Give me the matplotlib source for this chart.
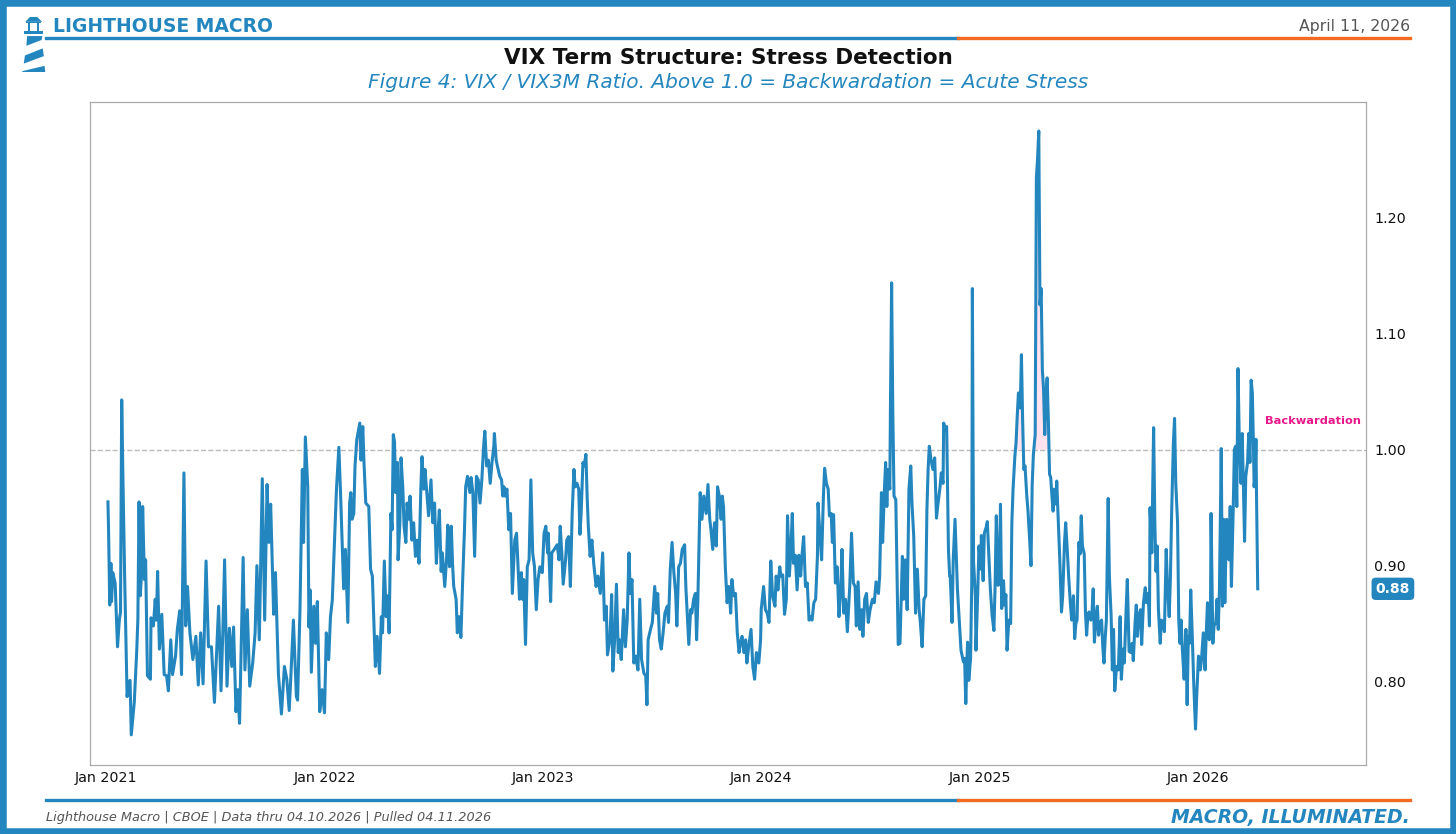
import numpy as np
import pandas as pd
import matplotlib
matplotlib.use("Agg")
import matplotlib.pyplot as plt
import matplotlib.dates as mdates
from matplotlib.patches import Rectangle, Polygon
from matplotlib.lines import Line2D
from matplotlib.transforms import blended_transform_factory

BLUE = '#2386BE'
ORANGE = '#F26B21'
PINK = '#E8178A'
GREY = '#555555'

start_date = '2021-01-01'

# days since start_date (trading days)
days = [
    3, 4, 6, 8, 9, 11, 15, 19, 22, 24,
    26, 28, 31, 35, 38, 40, 42, 47, 51, 53,
    55, 57, 60, 61, 64, 66, 69, 74, 75, 79,
    82, 84, 86, 89, 93, 97, 101, 104, 108, 111,
    116, 119, 123, 126, 130, 133, 136, 140, 145, 150,
    154, 158, 162, 167, 171, 176, 181, 188, 192, 195,
    198, 202, 206, 210, 213, 217, 220, 223, 229, 232,
    236, 240, 245, 249, 252, 256, 261, 265, 269, 272,
    275, 280, 283, 288, 293, 298, 302, 306, 309, 313,
    318, 320, 324, 328, 330, 333, 337, 339, 341, 343,
    347, 350, 353, 357, 361, 365, 368, 372, 375, 378,
    385, 389, 392, 397, 400, 404, 407, 409, 411, 414,
    416, 419, 424, 426, 429, 431, 434, 439,
    442, 445, 450, 453, 457, 460, 462, 465, 468, 470,
    473, 476, 478, 480, 482, 484, 487, 488, 491, 493,
    496, 498, 501, 503, 506, 508, 511, 514, 517, 520,
    523, 526, 528, 531, 533, 536, 539, 543, 546, 549,
    552, 555, 557, 560, 562, 566, 569, 571, 574, 577,
    579, 581, 585, 587, 590, 593, 596, 599, 601, 604,
    608, 610, 613, 616, 619, 622, 625, 628, 631, 633,
    636, 639, 642, 645, 648, 649, 652, 654, 658, 661,
    663, 665, 667, 670, 673, 676, 679, 683, 686, 688,
    691, 694, 696, 698, 701, 704, 707, 710, 713, 716,
    719, 722, 725, 729, 732, 735, 738, 739, 743, 745,
    749, 754, 757, 759, 762, 764, 768,
    770, 773, 776, 779, 782, 784, 787, 790, 792, 794,
    797, 799, 802, 804, 806, 809, 812, 815, 819, 822,
    826, 830, 833, 836, 838, 842, 845, 847, 850, 853,
    856, 858, 861, 865, 868, 871, 874, 876, 879, 882,
    885, 889, 892, 895, 899, 902, 904, 906, 910, 913,
    917, 920, 922, 925, 928, 931, 934, 938, 940, 943,
    946, 949, 952, 954, 957, 960, 963, 967, 969, 974,
    977, 979, 982, 985, 987, 989, 993, 996, 999, 1003,
    1006, 1009, 1011, 1014, 1017, 1020, 1022, 1025, 1028, 1030,
    1032, 1035, 1038, 1041, 1044, 1046, 1049, 1052, 1055, 1058,
    1060, 1063, 1066, 1069, 1071, 1074, 1078, 1081, 1084, 1087,
    1091, 1094,
    1095, 1099, 1102, 1105, 1108, 1111, 1114, 1118, 1120, 1123,
    1126, 1128, 1131, 1134, 1137, 1139, 1142, 1144, 1147, 1149,
    1152, 1155, 1158, 1161, 1163, 1166, 1169, 1172, 1175, 1177,
    1180, 1183, 1186, 1189, 1190, 1193, 1196, 1199, 1201, 1204,
    1207, 1209, 1212, 1214, 1216, 1219, 1222, 1225, 1228, 1230,
    1233, 1236, 1239, 1243, 1246, 1249, 1252, 1254, 1257, 1260,
    1263, 1265, 1268, 1271, 1274, 1277, 1281, 1284, 1287, 1291,
    1293, 1296, 1298, 1301, 1303, 1305, 1307, 1310, 1311, 1313,
    1315, 1317, 1320, 1322, 1324, 1327, 1331, 1333, 1336, 1339,
    1342, 1345, 1347, 1350, 1353, 1356, 1359, 1361, 1364, 1367,
    1370, 1372, 1374, 1376, 1379, 1382, 1385, 1388, 1390, 1394,
    1396, 1399, 1400, 1403, 1405, 1408, 1410, 1411, 1414, 1416,
    1419,
    1423, 1426, 1429, 1433, 1435, 1437, 1439, 1440, 1442, 1445,
    1447, 1448, 1450, 1453, 1454, 1457, 1459, 1462, 1463, 1466,
    1468, 1471, 1473, 1476, 1478, 1481, 1484, 1486, 1488, 1491,
    1493, 1495, 1497, 1500, 1502, 1504, 1506, 1509, 1512, 1514,
    1516, 1519, 1521, 1523, 1525, 1528, 1530, 1532, 1534, 1536,
    1539, 1541, 1544, 1546, 1548, 1550, 1553, 1555, 1557, 1559,
    1561, 1563, 1565, 1567, 1569, 1571, 1573, 1575, 1577, 1579,
    1581, 1583, 1585, 1588, 1589, 1592, 1594, 1597, 1599, 1602,
    1604, 1607, 1609, 1612, 1614, 1617, 1619, 1621, 1623, 1626,
    1628, 1630, 1632, 1635, 1637, 1639, 1641, 1643, 1646, 1648,
    1650, 1652, 1655, 1657, 1659, 1661, 1664, 1666, 1668, 1670,
    1672, 1675,
    1677, 1680, 1682, 1684, 1686, 1689, 1692, 1695, 1697, 1700,
    1702, 1705, 1707, 1710, 1713, 1715, 1717, 1720, 1722, 1724,
    1726, 1729, 1731, 1734, 1737, 1739, 1742, 1744, 1745, 1748,
    1749, 1751, 1753, 1755, 1757, 1759, 1762, 1764, 1767, 1769,
    1772, 1774, 1777, 1779, 1781, 1784, 1786, 1788, 1791, 1793,
    1795, 1797, 1799, 1802, 1805, 1807, 1809, 1811, 1813, 1816,
    1818, 1821, 1823, 1826, 1829, 1831, 1834, 1837, 1839, 1841,
    1844, 1846, 1847, 1850, 1852, 1855, 1857, 1859, 1861, 1864,
    1866, 1868, 1870, 1873, 1875, 1877, 1879, 1881, 1884, 1886,
    1888, 1890, 1892, 1894, 1897, 1899, 1901, 1903, 1905, 1908,
    1910, 1912, 1914, 1916, 1918, 1919, 1921, 1922, 1923, 1925,
]

# VIX / VIX3M ratio
ratio = [
    .955, .931, .866, .902, .869, .894, .885, .830, .853, .860,
    1.043, .977, .888, .787, .800, .801, .754, .782, .825, .853,
    .955, .874, .900, .951, .888, .905, .805, .802, .855, .848,
    .871, .853, .895, .828, .858, .806, .805, .792, .836, .806,
    .822, .845, .861, .806, .980, .848, .882, .842, .819, .839,
    .797, .842, .798, .904, .830, .830, .782, .865, .792, .842,
    .905, .796, .846, .813, .847, .774, .793, .764, .907, .810,
    .862, .796, .816, .842, .900, .836, .975, .853, .970, .920,
    .953, .858, .894, .806, .772, .813, .802, .775, .807, .853,
    .787, .784, .862, .983, .920, 1.011, .968, .847, .879, .808,
    .865, .833, .869, .774, .793, .773, .842, .819, .856, .870,
    .966, 1.002, .960, .880, .914, .851, .954, .963, .940, .945,
    .986, 1.009, 1.023, .991, 1.020, .989, .954, .951,
    .897, .891, .813, .839, .807, .856, .842, .904, .856, .874,
    .842, .945, .931, 1.013, 1.007, .963, .989, .905, .937, .993,
    .966, .934, .920, .954, .940, .960, .922, .937, .908, .922,
    .902, .966, .994, .966, .983, .963, .943, .974, .937, .954,
    .902, .931, .948, .895, .911, .882, .905, .935, .899, .934,
    .902, .882, .871, .842, .856, .838, .888, .931, .968, .977,
    .963, .976, .963, .908, .977, .974, .954, .974, 1.003, 1.016,
    .986, .991, .971, .989, 1.003, 1.014, .991, .986, .977, .974,
    .960, .968, .960, .966, .931, .945, .876, .922, .928, .905,
    .871, .894, .871, .888, .832, .899, .905, .974, .911, .899,
    .862, .888, .899, .894, .928, .934, .911, .928, .869, .911,
    .914, .918, .905, .934, .908, .884, .905,
    .922, .925, .882, .945, .983, .968, .971, .966, .927, .945,
    .989, .986, .996, .960, .934, .908, .922, .902, .882, .891,
    .876, .911, .853, .865, .823, .836, .875, .809, .836, .884,
    .825, .836, .819, .862, .830, .853, .911, .876, .888, .816,
    .822, .810, .871, .819, .807, .805, .780, .836, .845, .851,
    .882, .859, .876, .836, .828, .842, .859, .865, .851, .897,
    .920, .894, .876, .848, .899, .902, .914, .918, .882, .832,
    .862, .859, .871, .876, .836, .868, .963, .940, .960, .945,
    .970, .940, .931, .914, .937, .917, .968, .960, .940, .960,
    .951, .899, .868, .882, .859, .888, .874, .876, .842, .825,
    .833, .839, .825, .836, .816, .830, .845, .813, .802, .825,
    .816, .836,
    .862, .882, .862, .859, .851, .904, .874, .865, .891, .879,
    .899, .891, .892, .858, .871, .943, .891, .908, .945, .902,
    .909, .879, .909, .891, .908, .925, .882, .885, .853, .856,
    .853, .868, .871, .908, .954, .928, .905, .960, .984, .971,
    .966, .943, .945, .920, .944, .885, .899, .856, .879, .914,
    .859, .871, .843, .882, .928, .885, .882, .848, .886, .845,
    .862, .839, .871, .876, .851, .862, .871, .868, .886, .876,
    .891, .963, .920, .966, .989, .951, .983, .966, 1.034, 1.144,
    1.032, .960, .957, .897, .832, .833, .908, .871, .905, .862,
    .966, .986, .954, .925, .859, .897, .862, .851, .830, .871,
    .874, .948, .983, 1.003, .991, .983, .993, .941, .951, .968,
    .980, .971, 1.023, 1.017, 1.020, .914, .891, .891, .851, .905,
    .940,
    .880, .853, .827, .817, .820, .781, .820, .834, .801, .820,
    .887, 1.139, .903, .874, .827, .877, .917, .897, .926, .887,
    .928, .933, .938, .903, .880, .857, .844, .883, .943, .883,
    .887, .953, .863, .887, .866, .875, .827, .853, .850, .937,
    .966, .994, 1.006, 1.029, 1.049, 1.036, 1.082, 1.026, .983, .986,
    .960, .947, .920, .900, .970, .996, 1.013, 1.235, 1.251, 1.275,
    1.125, 1.139, 1.069, 1.052, 1.013, 1.046, 1.062, 1.026, .979, .976,
    .960, .947, .966, .953, .973, .933, .907, .860, .874, .920,
    .937, .910, .890, .866, .853, .874, .837, .850, .853, .920,
    .910, .943, .917, .910, .860, .840, .857, .860, .853, .860,
    .880, .834, .857, .865, .840, .850, .853, .830, .816, .837,
    .853, .958,
    .891, .856, .810, .845, .792, .813, .810, .856, .802, .828,
    .816, .862, .888, .826, .825, .833, .818, .851, .866, .839,
    .856, .862, .832, .868, .881, .868, .876, .848, .950, .911,
    .951, 1.019, .937, .895, .917, .862, .833, .853, .851, .843,
    .914, .885, .856, .888, .943, 1.006, 1.027, .971, .937, .853,
    .833, .853, .828, .802, .845, .780, .839, .833, .879, .833,
    .799, .759, .787, .822, .810, .819, .842, .810, .842, .868,
    .836, .856, .945, .833, .848, .851, .871, .845, .879, 1.001,
    .865, .940, .868, .940, .937, .905, .951, .882, .948, 1.000,
    1.003, .951, 1.070, 1.014, .971, 1.014, .971, .921, .977, .989,
    1.014, .989, 1.060, 1.049, 1.000, .968, .983, 1.009, .960, .880,
]

yticks = [0.80, 0.90, 1.00, 1.10, 1.20]
threshold = 1.0

dates = pd.Timestamp(start_date) + pd.to_timedelta(days, unit='D')
ratio = np.array(ratio)

W, H = 1456, 834


def fx(px):
    return px / W


def fy(py):
    return 1 - py / H


fig = plt.figure(figsize=(W / 100, H / 100), dpi=100)

# frame around the whole figure
fig.patches.append(Rectangle((0, 0), 1, 1, transform=fig.transFigure,
                             fill=False, ec=BLUE, lw=9, zorder=10))

# header
fig.text(fx(53), fy(27), 'LIGHTHOUSE MACRO', color=BLUE, fontsize=13.5,
         fontweight='bold', ha='left', va='center')
fig.text(fx(1410), fy(26), 'April 11, 2026', color=GREY, fontsize=11.3,
         ha='right', va='center')
fig.add_artist(Line2D([fx(46), fx(958)], [fy(38), fy(38)],
                      transform=fig.transFigure, color=BLUE, lw=2.4))
fig.add_artist(Line2D([fx(958), fx(1410)], [fy(38), fy(38)],
                      transform=fig.transFigure, color=ORANGE, lw=2.4))

# little lighthouse logo
logo = fig.add_axes([fx(22), fy(72), fx(24), 56 / H])
logo.set_xlim(18, 84)
logo.set_ylim(189, 16)
logo.axis('off')
shapes = [
    [(27, 34), (40, 19), (60, 19), (73, 34)],
    [(30, 34), (70, 34), (70, 39), (30, 39)],
    [(35, 39), (41, 39), (41, 62), (35, 62)],
    [(59, 39), (65, 39), (65, 62), (59, 62)],
    [(24, 62), (76, 62), (76, 72), (24, 72)],
    [(32, 78), (74, 78), (72, 90), (30, 108)],
    [(26, 138), (75, 116), (78, 140), (23, 163)],
    [(20, 186), (80, 170), (82, 189), (18, 189)],
]
for pts in shapes:
    logo.add_patch(Polygon(pts, closed=True, fc=BLUE, ec='none'))

# titles
fig.text(0.5, fy(58), 'VIX Term Structure: Stress Detection', color='#111111',
         fontsize=15.5, fontweight='bold', ha='center', va='center')
fig.text(0.5, fy(83),
         'Figure 4: VIX / VIX3M Ratio. Above 1.0 = Backwardation = Acute Stress',
         color=BLUE, fontsize=14.5, style='italic', ha='center', va='center')

# main chart
ax = fig.add_axes([fx(90), fy(765), fx(1276), 663 / H])
ax.fill_between(dates, threshold, ratio, where=ratio > threshold,
                interpolate=True, color='#FF8FC0', alpha=0.25, lw=0)
ax.plot(dates, ratio, color=BLUE, lw=2.2, zorder=3)
ax.axhline(threshold, color='#BBBBBB', ls='--', lw=1, zorder=1)

ax.set_xlim(pd.Timestamp('2020-12-05'), pd.Timestamp('2026-10-08'))
ax.set_ylim(0.728, 1.30)
ax.set_yticks(yticks)
ax.yaxis.set_major_formatter(plt.FuncFormatter(lambda v, p: f'{v:.2f}'))
ax.yaxis.tick_right()
ax.xaxis.set_major_locator(mdates.YearLocator())
ax.xaxis.set_major_formatter(mdates.DateFormatter('%b %Y'))
ax.tick_params(axis='both', length=0, labelsize=10.3, colors='#111111')
ax.tick_params(axis='y', pad=6)
ax.tick_params(axis='x', pad=4)
for sp in ax.spines.values():
    sp.set_color('#AAAAAA')
    sp.set_linewidth(0.9)

ax.text(0.996, 1.025, 'Backwardation', color=PINK, fontsize=8.2,
        fontweight='bold', ha='right', va='center',
        transform=blended_transform_factory(ax.transAxes, ax.transData))

last = ratio[-1]
ax.annotate(f'{last:.2f}', xy=(1.0, last),
            xycoords=blended_transform_factory(ax.transAxes, ax.transData),
            xytext=(7, 0), textcoords='offset points', ha='left', va='center',
            color='white', fontsize=10, fontweight='bold',
            bbox=dict(boxstyle='round,pad=0.3', fc=BLUE, ec='none'))

# footer
fig.add_artist(Line2D([fx(46), fx(958)], [fy(800), fy(800)],
                      transform=fig.transFigure, color=BLUE, lw=2.4))
fig.add_artist(Line2D([fx(958), fx(1410)], [fy(800), fy(800)],
                      transform=fig.transFigure, color=ORANGE, lw=2.4))
fig.text(fx(46), fy(818),
         'Lighthouse Macro | CBOE | Data thru 04.10.2026 | Pulled 04.11.2026',
         color=GREY, fontsize=9.3, style='italic', ha='left', va='center')
fig.text(fx(1410), fy(818), 'MACRO, ILLUMINATED.', color=BLUE, fontsize=13.6,
         fontweight='bold', style='italic', ha='right', va='center')

fig.savefig('out.png', dpi=100)
